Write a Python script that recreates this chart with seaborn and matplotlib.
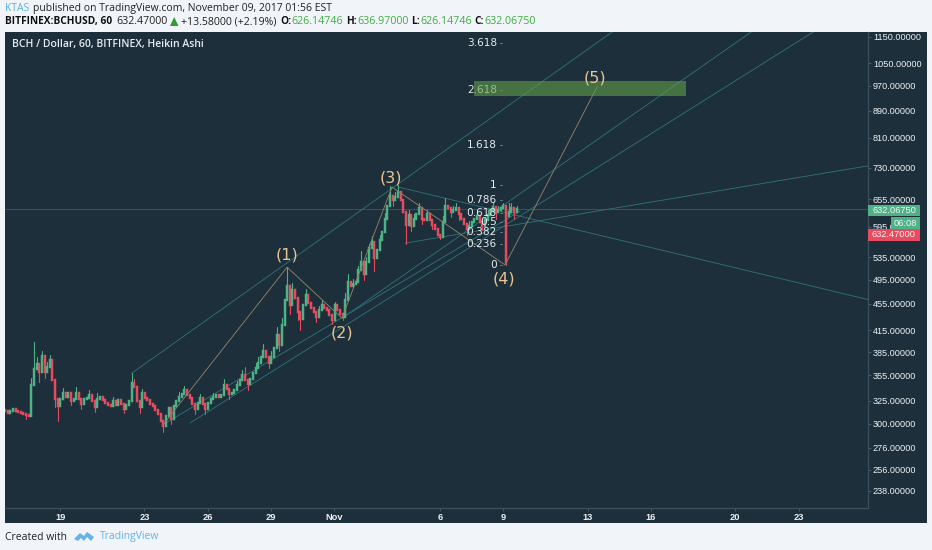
import numpy as np
import pandas as pd
import matplotlib
matplotlib.use("Agg")
import matplotlib.pyplot as plt
from matplotlib.patches import Rectangle, Polygon
from matplotlib.ticker import NullLocator
import seaborn as sns

closes = [
    314, 312, 314, 316, 314, 313, 312, 311, 309, 308,
    343, 363, 369, 359, 380, 359, 366, 374, 349, 327,
    319, 327, 334, 329, 334, 325, 327, 334, 327, 321,
    327, 328, 332, 325, 318, 327, 329, 326, 323, 320,
    319, 325, 320, 326, 321, 316, 320, 325, 346, 341,
    325, 318, 334, 328, 326, 321, 319, 315, 310, 303,
    298, 308, 317, 305, 319, 325, 329, 333, 337, 332,
    328, 321, 316, 323, 328, 321, 316, 323, 327, 329,
    332, 329, 332, 343, 339, 333, 334, 337, 343, 349,
    355, 349, 344, 351, 358, 364, 371, 378, 386, 378,
    370, 378, 391, 409, 395, 423, 462, 485, 454, 477,
    465, 442, 432, 454, 470, 456, 448, 442, 435, 446,
    453, 449, 446, 438, 430, 454, 446, 440, 435, 462,
    491, 485, 487, 491, 512, 526, 505, 526, 552, 564,
    534, 549, 568, 584, 612, 640, 661, 653, 660, 671,
    653, 626, 599, 619, 597, 612, 621, 636, 612, 609,
    621, 609, 599, 590, 579, 574, 605, 640, 635, 626,
    630, 636, 621, 612, 601, 590, 597, 605, 611, 618,
    605, 597, 609, 619, 630, 638, 626, 630, 634, 640,
    526, 626, 636, 626, 632,
]
first_open = 315
gap_opens = {191: 618}
high_wicks = {10: 352, 11: 398, 12: 378, 14: 387, 16: 372, 17: 381, 22: 340, 27: 341, 32: 338, 35: 334,
              41: 329, 48: 358, 49: 350, 52: 339, 66: 335, 68: 342, 74: 333, 79: 334, 83: 351, 88: 348,
              90: 362, 91: 365, 95: 371, 96: 378, 98: 396, 101: 386, 103: 420, 105: 434, 107: 517,
              109: 490, 110: 478, 114: 480, 115: 466, 119: 452, 120: 462, 125: 458, 129: 472, 130: 505,
              132: 496, 134: 520, 135: 546, 137: 536, 138: 560, 139: 576, 142: 578, 144: 625, 146: 685,
              148: 672, 149: 687, 150: 668, 153: 630, 155: 622, 157: 645, 160: 630, 166: 618, 167: 658,
              170: 640, 171: 645, 176: 606, 179: 628, 183: 630, 185: 648, 187: 640, 189: 647, 191: 647,
              192: 645, 194: 640}
low_wicks = {8: 305, 13: 347, 15: 352, 19: 318, 20: 303, 25: 320, 29: 316, 34: 313, 45: 312, 51: 312,
             60: 292, 63: 300, 72: 310, 76: 311, 85: 327, 92: 338, 100: 364, 104: 387, 108: 440, 111: 430,
             112: 415, 118: 428, 124: 424, 128: 430, 136: 495, 140: 511, 147: 640, 152: 561, 154: 586,
             158: 600, 162: 590, 165: 570, 169: 615, 172: 610, 175: 578, 181: 588, 186: 612, 190: 521,
             193: 612}

trend_days = [[22.41, 45.16], [24.02, 40.80], [25.16, 54.69], [32.36, 51.75], [35.02, 57.29], [35.35, 57.29]]
trend_prices = [[358, 1170], [301, 628], [301, 1170], [433, 1170], [683, 462], [562, 735]]

wave_days = [23.88, 29.76, 32.36, 34.73, 40.09, 44.45]
wave_prices = [299, 517, 433, 683, 521, 967]
wave_labels = ["(1)", "(2)", "(3)", "(4)", "(5)"]
wave_label_days = [29.76, 32.36, 34.66, 40.05, 44.36]
wave_label_prices = [539, 411, 705, 496, 997]

fib_labels = ["3.618", "2.618", "1.618", "1", "0.786", "0.618", "0.5", "0.382", "0.236", "0"]
fib_prices = [1125, 958, 791, 688, 652, 624, 604.5, 585, 560, 521]

zone_days = [38.62, 48.67]
zone_low, zone_high = 937, 987
last_price = 632

price_ticks = [1150, 1050, 970, 890, 810, 730, 655, 595, 535, 495, 455, 415, 385, 355, 325, 300, 276, 256, 238]
date_ticks = [19, 23, 26, 29, 32, 37, 40, 44, 47, 51, 54]
date_labels = ["19", "23", "26", "29", "Nov", "6", "9", "13", "16", "20", "23"]

BG = "#1d2f3b"
PAGE = "#f1f4f9"
GREEN = "#4fb286"
RED = "#e84a5f"
TEAL = "#2d7074"
TAN = "#8f7f66"
W, H = 932, 550


def fx(px):
    return px / W


def fy(py):
    return 1 - py / H


def candle_frames():
    days = 16.39 + np.arange(len(closes)) * 0.125
    opens = [first_open] + closes[:-1]
    for i, v in gap_opens.items():
        opens[i] = v
    bodies, wicks = [], []
    for i, (d, o, c) in enumerate(zip(days, opens, closes)):
        side = "up" if c >= o else "down"
        bodies += [(i, d, o, side), (i, d, c, side)]
        wicks += [(i, d, high_wicks.get(i, max(o, c)), side), (i, d, low_wicks.get(i, min(o, c)), side)]
    cols = ["bar", "day", "price", "side"]
    return pd.DataFrame(bodies, columns=cols), pd.DataFrame(wicks, columns=cols)


sns.set_theme(style="dark", rc={"axes.facecolor": BG, "figure.facecolor": PAGE})
plt.rcParams["font.family"] = ["Open Sans", "DejaVu Sans"]

fig = plt.figure(figsize=(W / 100, H / 100), dpi=100)
fig.add_artist(Rectangle((fx(5), fy(523)), fx(922), 491 / H, transform=fig.transFigure,
                         facecolor=BG, edgecolor="none", zorder=-1))
ax = fig.add_axes([fx(5), fy(508), fx(863), 476 / H])
ax.set_yscale("log")

body_df, wick_df = candle_frames()
palette = {"up": GREEN, "down": RED}

ax.axhline(last_price, color=TEAL, lw=0.6, alpha=0.8, zorder=1)

trend_df = pd.DataFrame([(n, d, p) for n, (ds, ps) in enumerate(zip(trend_days, trend_prices))
                         for d, p in zip(ds, ps)], columns=["line", "day", "price"])
sns.lineplot(data=trend_df, x="day", y="price", units="line", estimator=None, color=TEAL,
             lw=0.65, ax=ax, zorder=2)
sns.lineplot(data=wick_df, x="day", y="price", hue="side", units="bar", estimator=None,
             palette=palette, lw=0.8, legend=False, sort=False, ax=ax, zorder=3)
sns.lineplot(data=body_df, x="day", y="price", hue="side", units="bar", estimator=None,
             palette=palette, lw=1.75, legend=False, sort=False, ax=ax, zorder=3,
             solid_capstyle="projecting")
sns.lineplot(x=wave_days, y=wave_prices, color=TAN, lw=0.65, sort=False, ax=ax, zorder=4)

ax.fill_between(zone_days, zone_low, zone_high, color="#62a04a", alpha=0.6, lw=0, zorder=5)

for lab, p in zip(fib_labels, fib_prices):
    ax.text(39.7, p, lab, color="#e4ebef", fontsize=7.6, ha="right", va="center",
            family="DejaVu Sans", zorder=4)
    ax.plot([39.85, 39.93], [p, p], color="#8fa0aa", lw=0.5, zorder=4)

for lab, d, p in zip(wave_labels, wave_label_days, wave_label_prices):
    ax.text(d, p, lab, color="#e9c58f", fontsize=11.5, ha="center", va="center",
            family="DejaVu Sans", zorder=6)

ax.set_xlim(16.39, 57.29)
ax.set_ylim(224, 1170)
ax.set_xlabel("")
ax.set_ylabel("")
ax.yaxis.tick_right()
ax.yaxis.set_minor_locator(NullLocator())
ax.set_yticks(price_ticks)
ax.set_yticklabels([f"{p:.5f}" for p in price_ticks], family="Liberation Sans", fontsize=6.6, color="#eef2f4")
ax.set_xticks(date_ticks)
ax.set_xticklabels(date_labels, family="Liberation Sans", fontsize=6.7, color="#eef2f4", fontweight="bold")
ax.tick_params(axis="both", which="major", length=2, width=0.5, color="#5a6c78", pad=1.5, bottom=True, right=True)
ax.grid(False)
for name, sp in ax.spines.items():
    sp.set_visible(name in ("right", "bottom"))
    sp.set_color("#3c505d")
    sp.set_linewidth(0.9)

# panel title and header lines
fig.text(fx(12), fy(44.5), "BCH / Dollar, 60, BITFINEX, Heikin Ashi", color="#e8edf0", fontsize=7.45,
         fontweight="semibold", va="center")
fig.text(fx(5), fy(8.5), "KTAS", color="#5db0e0", fontsize=7.5, va="center")
fig.text(fx(33), fy(8.5), "published on TradingView.com, November 09, 2017 01:56 EST", color="#222222",
         fontsize=7.45, va="center")
head = [(5, "BITFINEX:BCHUSD, 60", "#111111", "bold", 7.3), (116, "632.47000", "#222222", "normal", 7.7),
        (181, "+13.58000 (+2.19%)", "#222222", "normal", 7.6), (280, "O:", "#111111", "bold", 7.3),
        (291, "626.14746", "#3fae3f", "normal", 7.7), (346, "H:", "#111111", "bold", 7.3),
        (357, "636.97000", "#3fae3f", "normal", 7.7), (411, "L:", "#111111", "bold", 7.3),
        (420, "626.14746", "#3fae3f", "normal", 7.7), (474, "C:", "#111111", "bold", 7.3),
        (484, "632.06750", "#3fae3f", "normal", 7.7)]
for px, txt, col, wt, fs in head:
    fig.text(fx(px), fy(21.5), txt, color=col, fontsize=fs, fontweight=wt, va="center")
fig.add_artist(Polygon([(fx(170), fy(26)), (fx(178.5), fy(26)), (fx(174.2), fy(17))],
                       transform=fig.transFigure, facecolor="#2e9e2e", edgecolor="none"))

# price tags on the axis
tags = [(868, 205, 52, 11.5, GREEN, "632.06750"), (891, 217, 29, 12, GREEN, "06:08"), (868, 229, 52, 11.5, RED, "632.47000")]
for px, py, w, h, col, txt in tags:
    fig.add_artist(Rectangle((fx(px), fy(py + h)), w / W, h / H, transform=fig.transFigure,
                             facecolor=col, edgecolor="none", zorder=2))
    fig.text(fx(px + w / 2), fy(py + h / 2), txt, color="#f2f5f6", fontsize=6.7, ha="center", va="center",
             family="Liberation Sans", zorder=3)

# footer
fig.text(fx(5), fy(537), "Created with", color="#222222", fontsize=7.5, va="center")
fig.text(fx(100), fy(537), "TradingView", color="#62b4e4", fontsize=7.5, va="center")
logo = [(74, 539), (80, 533), (84, 536), (87, 532), (94, 537), (91, 541), (87, 537), (84, 541), (81, 538), (78, 541)]
fig.add_artist(Polygon([(fx(a), fy(b)) for a, b in logo], transform=fig.transFigure,
                       facecolor="#62b4e4", edgecolor="none"))

fig.savefig("out.png", dpi=100, facecolor=PAGE)
